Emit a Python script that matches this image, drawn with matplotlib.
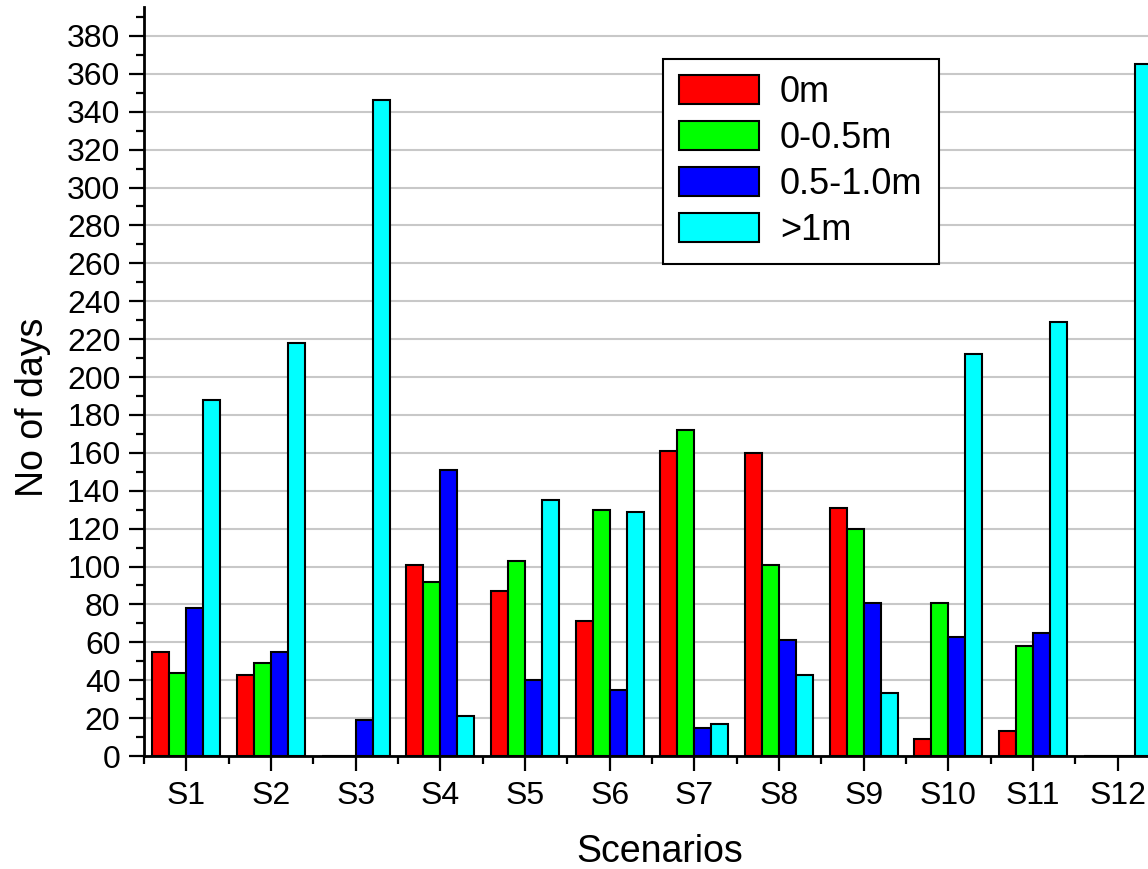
import matplotlib
matplotlib.use("Agg")
import matplotlib.pyplot as plt
import numpy as np
from matplotlib.ticker import MultipleLocator, FixedLocator

plt.rcParams['font.family'] = ['Liberation Sans', 'DejaVu Sans']

categories = ["S1", "S2", "S3", "S4", "S5", "S6", "S7", "S8", "S9", "S10", "S11", "S12"]
series_labels = ["0m", "0-0.5m", "0.5-1.0m", ">1m"]
vals_0m = [55, 43, 0, 101, 87, 71, 161, 160, 131, 9, 13, 0]
vals_0_05 = [44, 49, 0, 92, 103, 130, 172, 101, 120, 81, 58, 0]
vals_05_10 = [78, 55, 19, 151, 40, 35, 15, 61, 81, 63, 65, 0]
vals_gt1 = [188, 218, 346, 21, 135, 129, 17, 43, 33, 212, 229, 365]
colors = ["#ff0000", "#00ff00", "#0000ff", "#00ffff"]

fig = plt.figure(figsize=(11.48, 8.69), dpi=100)
ax = fig.add_axes([144/1148, 113/869, 1016/1148, 748.5/869])

x = np.arange(1, len(categories) + 1)
w = 0.2
series = [vals_0m, vals_0_05, vals_05_10, vals_gt1]
for i, (vals, lab, c) in enumerate(zip(series, series_labels, colors)):
    ax.bar(x + (i - 1.5) * w, vals, width=w, color=c, edgecolor='black',
           linewidth=1.5, label=lab, zorder=3)

ax.set_xlim(0.5, 12.5)
ax.set_ylim(0, 395)
ax.yaxis.set_major_locator(MultipleLocator(20))
ax.yaxis.set_minor_locator(MultipleLocator(10))
ax.set_xticks(x)
ax.set_xticklabels(categories)
ax.xaxis.set_minor_locator(FixedLocator(np.arange(0.5, 13, 1.0)))

ax.grid(axis='y', which='major', color='#c8c8c8', linewidth=1.5, zorder=0)
ax.set_axisbelow(True)

for s in ['top', 'right']:
    ax.spines[s].set_visible(False)
for s in ['left', 'bottom']:
    ax.spines[s].set_linewidth(2)
    ax.spines[s].set_zorder(5)

ax.tick_params(axis='both', which='major', length=11, width=1.6, direction='out', labelsize=23)
ax.tick_params(axis='both', which='minor', length=5.5, width=1.6, direction='out')
ax.tick_params(axis='y', which='major', pad=6)
ax.tick_params(axis='x', which='major', pad=7)

ax.set_ylabel("No of days", fontsize=27)
ax.yaxis.set_label_coords(-(144-51)/1016, (756-407)/748.5)
ax.set_xlabel("Scenarios", fontsize=27)
ax.xaxis.set_label_coords((660-144)/1016, -(834-756)/748.5)

leg = ax.legend(loc='upper left', bbox_to_anchor=(0.511, 0.931), borderaxespad=0,
                fontsize=26, frameon=True, fancybox=False, framealpha=1,
                edgecolor='black', handlelength=2.2, handleheight=0.86,
                labelspacing=0.3, handletextpad=0.58, borderpad=0.45)
leg.get_frame().set_linewidth(1.5)

fig.savefig("out.png", dpi=100)
